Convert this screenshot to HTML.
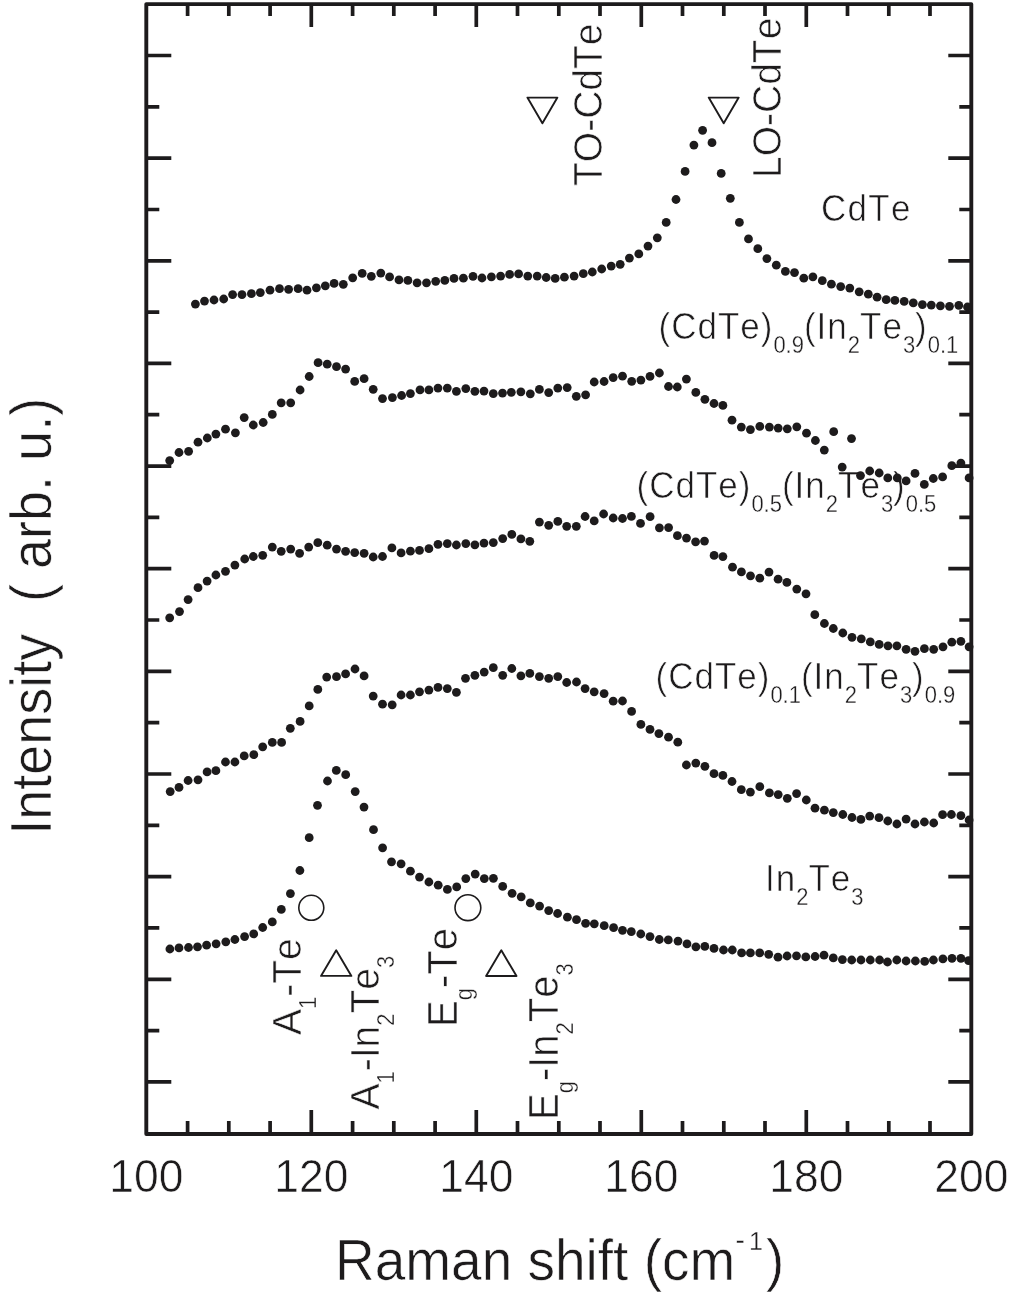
<!DOCTYPE html><html><head><meta charset="utf-8"><title>Raman spectra</title><style>
html,body{margin:0;padding:0;background:#fff;}
svg{display:block;}
text{font-family:"Liberation Sans", Arial, Helvetica, sans-serif;fill:#1d1b1c;font-kerning:none;stroke:#fff;stroke-width:0.6px;}
</style></head><body>
<svg width="1016" height="1300" viewBox="0 0 1016 1300">
<rect width="1016" height="1300" fill="#fff"/>
<path d="M187.6 1134.0V1121.0M187.6 4.1V16.1M228.8 1134.0V1121.0M228.8 4.1V16.1M270.1 1134.0V1121.0M270.1 4.1V16.1M311.3 1134.0V1110.0M311.3 4.1V27.1M352.6 1134.0V1121.0M352.6 4.1V16.1M393.8 1134.0V1121.0M393.8 4.1V16.1M435.1 1134.0V1121.0M435.1 4.1V16.1M476.3 1134.0V1110.0M476.3 4.1V27.1M517.5 1134.0V1121.0M517.5 4.1V16.1M558.8 1134.0V1121.0M558.8 4.1V16.1M600.0 1134.0V1121.0M600.0 4.1V16.1M641.3 1134.0V1110.0M641.3 4.1V27.1M682.5 1134.0V1121.0M682.5 4.1V16.1M723.8 1134.0V1121.0M723.8 4.1V16.1M765.0 1134.0V1121.0M765.0 4.1V16.1M806.3 1134.0V1110.0M806.3 4.1V27.1M847.5 1134.0V1121.0M847.5 4.1V16.1M888.8 1134.0V1121.0M888.8 4.1V16.1M930.0 1134.0V1121.0M930.0 4.1V16.1M146.3 55.5H171.3M971.3 55.5H948.3M146.3 106.8H159.3M971.3 106.8H959.3M146.3 158.1H171.3M971.3 158.1H948.3M146.3 209.5H159.3M971.3 209.5H959.3M146.3 260.8H171.3M971.3 260.8H948.3M146.3 312.1H159.3M971.3 312.1H959.3M146.3 363.4H171.3M971.3 363.4H948.3M146.3 414.7H159.3M971.3 414.7H959.3M146.3 466.1H171.3M971.3 466.1H948.3M146.3 517.4H159.3M971.3 517.4H959.3M146.3 568.7H171.3M971.3 568.7H948.3M146.3 620.0H159.3M971.3 620.0H959.3M146.3 671.3H171.3M971.3 671.3H948.3M146.3 722.7H159.3M971.3 722.7H959.3M146.3 774.0H171.3M971.3 774.0H948.3M146.3 825.3H159.3M971.3 825.3H959.3M146.3 876.6H171.3M971.3 876.6H948.3M146.3 927.9H159.3M971.3 927.9H959.3M146.3 979.3H171.3M971.3 979.3H948.3M146.3 1030.6H159.3M971.3 1030.6H959.3M146.3 1081.9H171.3M971.3 1081.9H948.3" stroke="#1d1b1c" stroke-width="3.7" fill="none"/>
<rect x="146.3" y="4.1" width="825.0" height="1129.9" fill="none" stroke="#1d1b1c" stroke-width="3.9" stroke-linejoin="round"/>
<text transform="translate(146.3,1191.5) scale(1,1.055)" font-size="44.5" text-anchor="middle">100</text>
<text transform="translate(311.3,1191.5) scale(1,1.055)" font-size="44.5" text-anchor="middle">120</text>
<text transform="translate(476.3,1191.5) scale(1,1.055)" font-size="44.5" text-anchor="middle">140</text>
<text transform="translate(641.3,1191.5) scale(1,1.055)" font-size="44.5" text-anchor="middle">160</text>
<text transform="translate(806.3,1191.5) scale(1,1.055)" font-size="44.5" text-anchor="middle">180</text>
<text transform="translate(971.3,1191.5) scale(1,1.055)" font-size="44.5" text-anchor="middle">200</text>
<text transform="translate(335.0,1280.0) scale(1,1.055)" font-size="55">Raman shift (cm<tspan font-size="28" stroke-width="0.3" x="400.5" dy="-28.91">-</tspan><tspan font-size="25" stroke-width="0.3" x="414.0">1</tspan><tspan x="431.0" dy="28.91">)</tspan></text>
<text transform="translate(50.8,834.8) rotate(-90) scale(1,1.055)" font-size="54">Intensity <tspan dx="16.8">( arb. u.)</tspan></text>
<text transform="translate(821.0,221.0) scale(1,1.055)" font-size="35" letter-spacing="1.3">CdTe</text>
<text transform="translate(658.5,339.0) scale(1,1.055)" font-size="35"><tspan letter-spacing="1.0">(CdTe)</tspan><tspan font-size="22" dy="13.27" stroke-width="0.3">0.9</tspan><tspan dy="-13.27" letter-spacing="1.0">(In</tspan><tspan font-size="22" dy="13.27" stroke-width="0.3">2</tspan><tspan dy="-13.27" letter-spacing="1.0">Te</tspan><tspan font-size="22" dy="13.27" stroke-width="0.3">3</tspan><tspan dy="-13.27" letter-spacing="1.0">)</tspan><tspan font-size="22" dy="13.27" stroke-width="0.3">0.1</tspan></text>
<text transform="translate(636.5,498.0) scale(1,1.055)" font-size="35"><tspan letter-spacing="1.0">(CdTe)</tspan><tspan font-size="22" dy="13.27" stroke-width="0.3">0.5</tspan><tspan dy="-13.27" letter-spacing="1.0">(In</tspan><tspan font-size="22" dy="13.27" stroke-width="0.3">2</tspan><tspan dy="-13.27" letter-spacing="1.0">Te</tspan><tspan font-size="22" dy="13.27" stroke-width="0.3">3</tspan><tspan dy="-13.27" letter-spacing="1.0">)</tspan><tspan font-size="22" dy="13.27" stroke-width="0.3">0.5</tspan></text>
<text transform="translate(655.5,689.0) scale(1,1.055)" font-size="35"><tspan letter-spacing="1.0">(CdTe)</tspan><tspan font-size="22" dy="13.27" stroke-width="0.3">0.1</tspan><tspan dy="-13.27" letter-spacing="1.0">(In</tspan><tspan font-size="22" dy="13.27" stroke-width="0.3">2</tspan><tspan dy="-13.27" letter-spacing="1.0">Te</tspan><tspan font-size="22" dy="13.27" stroke-width="0.3">3</tspan><tspan dy="-13.27" letter-spacing="1.0">)</tspan><tspan font-size="22" dy="13.27" stroke-width="0.3">0.9</tspan></text>
<text transform="translate(765.0,891.0) scale(1,1.055)" font-size="35"><tspan letter-spacing="1.0">In</tspan><tspan font-size="22" dy="13.27" stroke-width="0.3">2</tspan><tspan dy="-13.27" letter-spacing="1.0">Te</tspan><tspan font-size="22" dy="13.27" stroke-width="0.3">3</tspan></text>
<text transform="translate(601.5,186.0) rotate(-90) scale(1,1.055)" font-size="39"><tspan>TO-CdTe</tspan></text>
<text transform="translate(781.0,178.0) rotate(-90) scale(1,1.055)" font-size="39"><tspan>LO-CdTe</tspan></text>
<text transform="translate(301.4,1035.0) rotate(-90) scale(1,1.055)" font-size="39"><tspan>A</tspan><tspan font-size="22" dy="14.22" stroke-width="0.3">1</tspan><tspan dy="-14.22">-Te</tspan></text>
<text transform="translate(379.2,1109.5) rotate(-90) scale(1,1.055)" font-size="39"><tspan>A</tspan><tspan font-size="22" dy="14.22" stroke-width="0.3">1</tspan><tspan dy="-14.22">-In</tspan><tspan font-size="22" dy="14.22" stroke-width="0.3">2</tspan><tspan dy="-14.22">Te</tspan><tspan font-size="22" dy="14.22" stroke-width="0.3">3</tspan></text>
<text transform="translate(457.4,1027.0) rotate(-90) scale(1,1.055)" font-size="40"><tspan>E</tspan><tspan font-size="22" dy="14.22" stroke-width="0.3">g</tspan><tspan dy="-14.22">-Te</tspan></text>
<text transform="translate(557.8,1120.0) rotate(-90) scale(1,1.055)" font-size="40"><tspan>E</tspan><tspan font-size="22" dy="14.22" stroke-width="0.3">g</tspan><tspan dy="-14.22">-In</tspan><tspan font-size="22" dy="14.22" stroke-width="0.3">2</tspan><tspan dy="-14.22">Te</tspan><tspan font-size="22" dy="14.22" stroke-width="0.3">3</tspan></text>
<path d="M527.4 97.6H557.4L542.4 123.2Z" fill="none" stroke="#1d1b1c" stroke-width="1.9" stroke-linejoin="round"/>
<path d="M708.7 97.6H738.7L723.7 123.2Z" fill="none" stroke="#1d1b1c" stroke-width="1.9" stroke-linejoin="round"/>
<path d="M321.0 975.9H351.4L336.2 950.3Z" fill="none" stroke="#1d1b1c" stroke-width="1.9" stroke-linejoin="round"/>
<path d="M486.1 976.0H516.5L501.3 950.3Z" fill="none" stroke="#1d1b1c" stroke-width="1.9" stroke-linejoin="round"/>
<circle cx="311.3" cy="907.8" r="12.5" fill="none" stroke="#1d1b1c" stroke-width="1.6"/>
<circle cx="467.9" cy="907.7" r="12.9" fill="none" stroke="#1d1b1c" stroke-width="1.6"/>
<g fill="#1d1b1c">
<circle cx="195.4" cy="304.1" r="4.4"/><circle cx="204.5" cy="301.1" r="4.4"/><circle cx="214.0" cy="300.0" r="4.4"/><circle cx="223.7" cy="299.0" r="4.4"/><circle cx="232.6" cy="294.6" r="4.4"/><circle cx="242.0" cy="294.6" r="4.4"/><circle cx="251.4" cy="293.7" r="4.4"/><circle cx="260.3" cy="292.6" r="4.4"/><circle cx="270.0" cy="290.2" r="4.4"/><circle cx="279.5" cy="288.7" r="4.4"/><circle cx="288.6" cy="289.3" r="4.4"/><circle cx="298.1" cy="288.7" r="4.4"/><circle cx="307.0" cy="290.2" r="4.4"/><circle cx="316.4" cy="287.8" r="4.4"/><circle cx="325.3" cy="285.8" r="4.4"/><circle cx="334.1" cy="283.4" r="4.4"/><circle cx="343.3" cy="284.3" r="4.4"/><circle cx="352.7" cy="277.8" r="4.4"/><circle cx="362.2" cy="273.4" r="4.4"/><circle cx="371.3" cy="276.3" r="4.4"/><circle cx="380.8" cy="273.1" r="4.4"/><circle cx="389.6" cy="276.9" r="4.4"/><circle cx="399.0" cy="279.9" r="4.4"/><circle cx="407.9" cy="280.4" r="4.4"/><circle cx="417.1" cy="282.8" r="4.4"/><circle cx="426.5" cy="282.8" r="4.4"/><circle cx="435.7" cy="281.3" r="4.4"/><circle cx="444.8" cy="280.4" r="4.4"/><circle cx="454.0" cy="278.4" r="4.4"/><circle cx="463.4" cy="278.2" r="4.4"/><circle cx="473.0" cy="276.3" r="4.4"/><circle cx="482.0" cy="278.0" r="4.4"/><circle cx="491.4" cy="276.8" r="4.4"/><circle cx="500.6" cy="276.1" r="4.4"/><circle cx="509.6" cy="274.4" r="4.4"/><circle cx="518.6" cy="273.9" r="4.4"/><circle cx="527.8" cy="276.1" r="4.4"/><circle cx="537.2" cy="276.1" r="4.4"/><circle cx="546.2" cy="277.5" r="4.4"/><circle cx="555.2" cy="278.4" r="4.4"/><circle cx="564.4" cy="277.2" r="4.4"/><circle cx="574.1" cy="276.1" r="4.4"/><circle cx="583.3" cy="273.7" r="4.4"/><circle cx="592.3" cy="272.0" r="4.4"/><circle cx="601.7" cy="269.0" r="4.4"/><circle cx="611.2" cy="266.1" r="4.4"/><circle cx="620.2" cy="264.3" r="4.4"/><circle cx="629.4" cy="258.1" r="4.4"/><circle cx="638.8" cy="253.9" r="4.4"/><circle cx="648.0" cy="246.1" r="4.4"/><circle cx="657.3" cy="237.8" r="4.4"/><circle cx="666.2" cy="222.4" r="4.4"/><circle cx="676.0" cy="199.5" r="4.4"/><circle cx="685.1" cy="171.4" r="4.4"/><circle cx="693.9" cy="145.1" r="4.4"/><circle cx="702.6" cy="130.3" r="4.4"/><circle cx="712.0" cy="142.7" r="4.4"/><circle cx="721.2" cy="173.4" r="4.4"/><circle cx="730.3" cy="198.3" r="4.4"/><circle cx="739.4" cy="222.4" r="4.4"/><circle cx="748.5" cy="238.9" r="4.4"/><circle cx="757.8" cy="248.7" r="4.4"/><circle cx="766.9" cy="258.6" r="4.4"/><circle cx="776.3" cy="265.2" r="4.4"/><circle cx="785.4" cy="271.4" r="4.4"/><circle cx="794.5" cy="272.6" r="4.4"/><circle cx="803.8" cy="278.2" r="4.4"/><circle cx="812.9" cy="276.8" r="4.4"/><circle cx="822.3" cy="280.7" r="4.4"/><circle cx="831.4" cy="284.2" r="4.4"/><circle cx="840.7" cy="286.6" r="4.4"/><circle cx="849.8" cy="288.1" r="4.4"/><circle cx="859.2" cy="291.8" r="4.4"/><circle cx="868.3" cy="294.2" r="4.4"/><circle cx="877.1" cy="297.2" r="4.4"/><circle cx="886.2" cy="299.7" r="4.4"/><circle cx="894.9" cy="300.4" r="4.4"/><circle cx="904.2" cy="301.4" r="4.4"/><circle cx="913.3" cy="302.9" r="4.4"/><circle cx="922.4" cy="304.6" r="4.4"/><circle cx="931.3" cy="305.1" r="4.4"/><circle cx="940.4" cy="305.8" r="4.4"/><circle cx="949.5" cy="306.3" r="4.4"/><circle cx="958.8" cy="305.3" r="4.4"/><circle cx="967.5" cy="307.0" r="4.4"/>
<circle cx="169.7" cy="460.6" r="4.4"/><circle cx="179.0" cy="452.5" r="4.4"/><circle cx="188.6" cy="451.3" r="4.4"/><circle cx="198.0" cy="442.2" r="4.4"/><circle cx="207.3" cy="438.0" r="4.4"/><circle cx="215.9" cy="434.1" r="4.4"/><circle cx="225.5" cy="429.2" r="4.4"/><circle cx="235.4" cy="432.8" r="4.4"/><circle cx="244.2" cy="417.6" r="4.4"/><circle cx="253.3" cy="425.0" r="4.4"/><circle cx="263.2" cy="422.5" r="4.4"/><circle cx="272.3" cy="414.4" r="4.4"/><circle cx="281.2" cy="402.8" r="4.4"/><circle cx="290.7" cy="402.8" r="4.4"/><circle cx="300.1" cy="390.0" r="4.4"/><circle cx="309.2" cy="376.5" r="4.4"/><circle cx="318.1" cy="362.7" r="4.4"/><circle cx="327.2" cy="364.2" r="4.4"/><circle cx="336.5" cy="366.7" r="4.4"/><circle cx="345.6" cy="369.1" r="4.4"/><circle cx="354.7" cy="381.4" r="4.4"/><circle cx="364.1" cy="378.7" r="4.4"/><circle cx="373.2" cy="389.3" r="4.4"/><circle cx="382.5" cy="398.6" r="4.4"/><circle cx="392.4" cy="397.6" r="4.4"/><circle cx="401.6" cy="395.5" r="4.4"/><circle cx="410.4" cy="393.6" r="4.4"/><circle cx="420.0" cy="389.9" r="4.4"/><circle cx="428.9" cy="389.9" r="4.4"/><circle cx="438.0" cy="388.1" r="4.4"/><circle cx="447.3" cy="388.1" r="4.4"/><circle cx="456.4" cy="391.3" r="4.4"/><circle cx="465.8" cy="388.6" r="4.4"/><circle cx="474.9" cy="391.3" r="4.4"/><circle cx="484.0" cy="391.1" r="4.4"/><circle cx="493.3" cy="393.6" r="4.4"/><circle cx="502.5" cy="393.1" r="4.4"/><circle cx="511.3" cy="392.3" r="4.4"/><circle cx="520.9" cy="391.8" r="4.4"/><circle cx="530.3" cy="393.8" r="4.4"/><circle cx="539.4" cy="389.4" r="4.4"/><circle cx="548.7" cy="392.6" r="4.4"/><circle cx="557.8" cy="388.1" r="4.4"/><circle cx="567.2" cy="387.6" r="4.4"/><circle cx="576.3" cy="396.3" r="4.4"/><circle cx="585.6" cy="394.8" r="4.4"/><circle cx="594.2" cy="382.0" r="4.4"/><circle cx="604.1" cy="381.5" r="4.4"/><circle cx="613.2" cy="377.6" r="4.4"/><circle cx="622.5" cy="376.2" r="4.4"/><circle cx="631.7" cy="381.3" r="4.4"/><circle cx="640.9" cy="380.1" r="4.4"/><circle cx="650.0" cy="376.4" r="4.4"/><circle cx="659.4" cy="373.0" r="4.4"/><circle cx="668.5" cy="386.5" r="4.4"/><circle cx="677.3" cy="387.0" r="4.4"/><circle cx="686.4" cy="379.1" r="4.4"/><circle cx="695.8" cy="392.4" r="4.4"/><circle cx="704.9" cy="399.3" r="4.4"/><circle cx="714.0" cy="403.5" r="4.4"/><circle cx="722.9" cy="405.4" r="4.4"/><circle cx="732.0" cy="420.2" r="4.4"/><circle cx="741.3" cy="427.1" r="4.4"/><circle cx="750.4" cy="429.6" r="4.4"/><circle cx="759.8" cy="426.4" r="4.4"/><circle cx="769.4" cy="427.1" r="4.4"/><circle cx="778.2" cy="428.1" r="4.4"/><circle cx="787.3" cy="428.8" r="4.4"/><circle cx="796.8" cy="426.8" r="4.4"/><circle cx="806.5" cy="433.2" r="4.4"/><circle cx="815.4" cy="440.5" r="4.4"/><circle cx="824.3" cy="450.1" r="4.4"/><circle cx="833.7" cy="431.7" r="4.4"/><circle cx="851.5" cy="438.6" r="4.4"/><circle cx="842.2" cy="467.1" r="4.4"/><circle cx="860.5" cy="475.6" r="4.4"/><circle cx="869.7" cy="471.0" r="4.4"/><circle cx="879.2" cy="473.0" r="4.4"/><circle cx="887.8" cy="477.9" r="4.4"/><circle cx="897.3" cy="477.9" r="4.4"/><circle cx="906.1" cy="480.9" r="4.4"/><circle cx="915.0" cy="473.4" r="4.4"/><circle cx="924.3" cy="484.4" r="4.4"/><circle cx="933.3" cy="478.5" r="4.4"/><circle cx="942.6" cy="476.9" r="4.4"/><circle cx="951.8" cy="465.7" r="4.4"/><circle cx="960.9" cy="463.1" r="4.4"/><circle cx="969.1" cy="477.9" r="4.4"/>
<circle cx="169.7" cy="617.8" r="4.4"/><circle cx="179.5" cy="611.6" r="4.4"/><circle cx="188.1" cy="599.6" r="4.4"/><circle cx="198.0" cy="587.7" r="4.4"/><circle cx="207.1" cy="581.1" r="4.4"/><circle cx="215.9" cy="575.0" r="4.4"/><circle cx="225.5" cy="571.3" r="4.4"/><circle cx="234.9" cy="565.1" r="4.4"/><circle cx="244.7" cy="559.0" r="4.4"/><circle cx="253.3" cy="556.5" r="4.4"/><circle cx="262.7" cy="555.3" r="4.4"/><circle cx="272.3" cy="547.1" r="4.4"/><circle cx="281.2" cy="551.3" r="4.4"/><circle cx="290.7" cy="549.1" r="4.4"/><circle cx="299.6" cy="553.3" r="4.4"/><circle cx="308.7" cy="547.1" r="4.4"/><circle cx="317.8" cy="542.7" r="4.4"/><circle cx="327.2" cy="545.2" r="4.4"/><circle cx="336.5" cy="549.1" r="4.4"/><circle cx="345.6" cy="551.3" r="4.4"/><circle cx="354.7" cy="552.6" r="4.4"/><circle cx="364.1" cy="553.3" r="4.4"/><circle cx="373.2" cy="557.0" r="4.4"/><circle cx="382.5" cy="556.5" r="4.4"/><circle cx="391.9" cy="547.9" r="4.4"/><circle cx="401.1" cy="552.9" r="4.4"/><circle cx="410.4" cy="551.2" r="4.4"/><circle cx="419.5" cy="550.4" r="4.4"/><circle cx="428.9" cy="548.7" r="4.4"/><circle cx="438.0" cy="544.3" r="4.4"/><circle cx="447.3" cy="543.6" r="4.4"/><circle cx="456.4" cy="545.0" r="4.4"/><circle cx="465.8" cy="543.6" r="4.4"/><circle cx="474.9" cy="544.8" r="4.4"/><circle cx="484.0" cy="543.1" r="4.4"/><circle cx="493.3" cy="542.6" r="4.4"/><circle cx="502.7" cy="538.6" r="4.4"/><circle cx="511.8" cy="534.4" r="4.4"/><circle cx="520.9" cy="538.9" r="4.4"/><circle cx="529.8" cy="541.3" r="4.4"/><circle cx="539.4" cy="522.1" r="4.4"/><circle cx="548.7" cy="525.3" r="4.4"/><circle cx="557.8" cy="521.4" r="4.4"/><circle cx="566.7" cy="526.3" r="4.4"/><circle cx="576.3" cy="526.3" r="4.4"/><circle cx="585.1" cy="516.5" r="4.4"/><circle cx="594.2" cy="520.9" r="4.4"/><circle cx="603.6" cy="514.0" r="4.4"/><circle cx="613.2" cy="518.0" r="4.4"/><circle cx="622.5" cy="518.5" r="4.4"/><circle cx="631.4" cy="516.4" r="4.4"/><circle cx="640.5" cy="523.4" r="4.4"/><circle cx="650.1" cy="516.7" r="4.4"/><circle cx="659.4" cy="527.8" r="4.4"/><circle cx="668.6" cy="527.6" r="4.4"/><circle cx="677.4" cy="535.7" r="4.4"/><circle cx="686.5" cy="538.1" r="4.4"/><circle cx="695.6" cy="541.8" r="4.4"/><circle cx="704.5" cy="541.1" r="4.4"/><circle cx="714.1" cy="555.4" r="4.4"/><circle cx="722.9" cy="556.6" r="4.4"/><circle cx="732.5" cy="567.2" r="4.4"/><circle cx="741.4" cy="571.9" r="4.4"/><circle cx="750.5" cy="575.8" r="4.4"/><circle cx="759.8" cy="578.2" r="4.4"/><circle cx="769.0" cy="572.1" r="4.4"/><circle cx="778.1" cy="579.2" r="4.4"/><circle cx="786.9" cy="582.4" r="4.4"/><circle cx="796.8" cy="589.1" r="4.4"/><circle cx="806.0" cy="593.8" r="4.4"/><circle cx="814.8" cy="614.7" r="4.4"/><circle cx="824.4" cy="623.5" r="4.4"/><circle cx="833.3" cy="628.5" r="4.4"/><circle cx="842.8" cy="633.0" r="4.4"/><circle cx="852.0" cy="637.3" r="4.4"/><circle cx="861.3" cy="638.9" r="4.4"/><circle cx="870.3" cy="641.9" r="4.4"/><circle cx="879.2" cy="644.4" r="4.4"/><circle cx="888.0" cy="645.8" r="4.4"/><circle cx="896.9" cy="645.8" r="4.4"/><circle cx="906.1" cy="649.3" r="4.4"/><circle cx="915.0" cy="651.3" r="4.4"/><circle cx="924.4" cy="648.7" r="4.4"/><circle cx="933.7" cy="649.3" r="4.4"/><circle cx="943.0" cy="646.8" r="4.4"/><circle cx="951.8" cy="642.2" r="4.4"/><circle cx="960.9" cy="641.3" r="4.4"/><circle cx="969.1" cy="646.8" r="4.4"/>
<circle cx="170.2" cy="791.6" r="4.4"/><circle cx="179.0" cy="787.4" r="4.4"/><circle cx="188.1" cy="780.5" r="4.4"/><circle cx="198.0" cy="779.8" r="4.4"/><circle cx="207.1" cy="771.9" r="4.4"/><circle cx="215.9" cy="770.7" r="4.4"/><circle cx="225.5" cy="762.0" r="4.4"/><circle cx="234.9" cy="762.0" r="4.4"/><circle cx="244.2" cy="755.9" r="4.4"/><circle cx="253.8" cy="754.7" r="4.4"/><circle cx="262.7" cy="746.8" r="4.4"/><circle cx="272.3" cy="742.4" r="4.4"/><circle cx="281.6" cy="742.4" r="4.4"/><circle cx="290.3" cy="728.3" r="4.4"/><circle cx="300.1" cy="721.4" r="4.4"/><circle cx="309.2" cy="705.9" r="4.4"/><circle cx="317.8" cy="689.4" r="4.4"/><circle cx="326.7" cy="677.1" r="4.4"/><circle cx="336.5" cy="676.7" r="4.4"/><circle cx="345.6" cy="673.9" r="4.4"/><circle cx="355.0" cy="669.0" r="4.4"/><circle cx="364.1" cy="675.9" r="4.4"/><circle cx="373.2" cy="696.1" r="4.4"/><circle cx="382.5" cy="704.2" r="4.4"/><circle cx="392.2" cy="704.8" r="4.4"/><circle cx="401.1" cy="695.0" r="4.4"/><circle cx="410.4" cy="695.0" r="4.4"/><circle cx="419.5" cy="691.8" r="4.4"/><circle cx="428.9" cy="690.1" r="4.4"/><circle cx="438.0" cy="687.4" r="4.4"/><circle cx="447.3" cy="688.6" r="4.4"/><circle cx="456.4" cy="692.3" r="4.4"/><circle cx="465.5" cy="678.3" r="4.4"/><circle cx="474.9" cy="675.3" r="4.4"/><circle cx="484.2" cy="672.1" r="4.4"/><circle cx="493.3" cy="667.7" r="4.4"/><circle cx="502.7" cy="675.3" r="4.4"/><circle cx="511.8" cy="668.5" r="4.4"/><circle cx="520.9" cy="675.8" r="4.4"/><circle cx="529.8" cy="673.4" r="4.4"/><circle cx="539.4" cy="676.6" r="4.4"/><circle cx="548.7" cy="678.3" r="4.4"/><circle cx="557.8" cy="676.6" r="4.4"/><circle cx="566.7" cy="682.5" r="4.4"/><circle cx="576.5" cy="682.0" r="4.4"/><circle cx="585.1" cy="688.6" r="4.4"/><circle cx="594.2" cy="691.8" r="4.4"/><circle cx="604.1" cy="693.6" r="4.4"/><circle cx="613.2" cy="701.2" r="4.4"/><circle cx="622.5" cy="701.0" r="4.4"/><circle cx="631.6" cy="711.4" r="4.4"/><circle cx="640.9" cy="724.4" r="4.4"/><circle cx="650.0" cy="729.4" r="4.4"/><circle cx="658.9" cy="733.6" r="4.4"/><circle cx="668.5" cy="737.2" r="4.4"/><circle cx="677.8" cy="742.2" r="4.4"/><circle cx="686.4" cy="765.0" r="4.4"/><circle cx="695.8" cy="763.1" r="4.4"/><circle cx="704.9" cy="766.3" r="4.4"/><circle cx="714.0" cy="773.7" r="4.4"/><circle cx="722.9" cy="775.4" r="4.4"/><circle cx="732.0" cy="781.5" r="4.4"/><circle cx="741.3" cy="789.7" r="4.4"/><circle cx="750.4" cy="792.1" r="4.4"/><circle cx="759.8" cy="786.7" r="4.4"/><circle cx="769.4" cy="792.9" r="4.4"/><circle cx="778.2" cy="794.6" r="4.4"/><circle cx="787.3" cy="798.3" r="4.4"/><circle cx="796.6" cy="793.6" r="4.4"/><circle cx="806.3" cy="800.0" r="4.4"/><circle cx="815.0" cy="808.2" r="4.4"/><circle cx="824.4" cy="810.2" r="4.4"/><circle cx="833.3" cy="812.6" r="4.4"/><circle cx="842.8" cy="814.5" r="4.4"/><circle cx="852.0" cy="817.5" r="4.4"/><circle cx="860.9" cy="819.4" r="4.4"/><circle cx="869.7" cy="816.1" r="4.4"/><circle cx="879.0" cy="817.7" r="4.4"/><circle cx="887.8" cy="821.0" r="4.4"/><circle cx="896.9" cy="824.0" r="4.4"/><circle cx="906.1" cy="819.1" r="4.4"/><circle cx="915.0" cy="824.0" r="4.4"/><circle cx="924.4" cy="822.0" r="4.4"/><circle cx="933.7" cy="823.0" r="4.4"/><circle cx="942.6" cy="814.7" r="4.4"/><circle cx="951.4" cy="814.5" r="4.4"/><circle cx="960.9" cy="815.7" r="4.4"/><circle cx="969.1" cy="820.0" r="4.4"/>
<circle cx="169.9" cy="949.0" r="4.4"/><circle cx="179.0" cy="947.9" r="4.4"/><circle cx="188.5" cy="947.5" r="4.4"/><circle cx="197.5" cy="946.8" r="4.4"/><circle cx="206.6" cy="945.2" r="4.4"/><circle cx="216.1" cy="943.8" r="4.4"/><circle cx="225.8" cy="941.8" r="4.4"/><circle cx="234.9" cy="939.5" r="4.4"/><circle cx="244.6" cy="936.6" r="4.4"/><circle cx="253.7" cy="933.9" r="4.4"/><circle cx="262.7" cy="927.5" r="4.4"/><circle cx="272.3" cy="921.9" r="4.4"/><circle cx="281.3" cy="909.4" r="4.4"/><circle cx="290.4" cy="893.6" r="4.4"/><circle cx="299.9" cy="870.5" r="4.4"/><circle cx="309.2" cy="837.7" r="4.4"/><circle cx="317.5" cy="805.3" r="4.4"/><circle cx="327.5" cy="781.0" r="4.4"/><circle cx="336.3" cy="770.4" r="4.4"/><circle cx="345.7" cy="774.7" r="4.4"/><circle cx="355.2" cy="791.6" r="4.4"/><circle cx="364.0" cy="807.1" r="4.4"/><circle cx="373.5" cy="829.7" r="4.4"/><circle cx="382.6" cy="847.8" r="4.4"/><circle cx="391.5" cy="861.8" r="4.4"/><circle cx="401.1" cy="863.8" r="4.4"/><circle cx="410.4" cy="871.2" r="4.4"/><circle cx="419.5" cy="877.1" r="4.4"/><circle cx="428.9" cy="882.0" r="4.4"/><circle cx="438.2" cy="885.2" r="4.4"/><circle cx="447.4" cy="889.4" r="4.4"/><circle cx="456.7" cy="886.9" r="4.4"/><circle cx="465.8" cy="878.6" r="4.4"/><circle cx="475.2" cy="874.1" r="4.4"/><circle cx="484.3" cy="878.6" r="4.4"/><circle cx="493.4" cy="878.3" r="4.4"/><circle cx="502.7" cy="886.4" r="4.4"/><circle cx="512.1" cy="893.3" r="4.4"/><circle cx="521.2" cy="896.8" r="4.4"/><circle cx="530.3" cy="902.9" r="4.4"/><circle cx="539.6" cy="906.1" r="4.4"/><circle cx="548.7" cy="910.6" r="4.4"/><circle cx="557.6" cy="913.5" r="4.4"/><circle cx="567.4" cy="917.2" r="4.4"/><circle cx="576.5" cy="919.7" r="4.4"/><circle cx="585.6" cy="923.3" r="4.4"/><circle cx="594.3" cy="923.8" r="4.4"/><circle cx="604.2" cy="925.7" r="4.4"/><circle cx="613.6" cy="927.7" r="4.4"/><circle cx="622.5" cy="930.3" r="4.4"/><circle cx="631.3" cy="931.7" r="4.4"/><circle cx="640.8" cy="934.0" r="4.4"/><circle cx="650.0" cy="936.6" r="4.4"/><circle cx="659.3" cy="939.5" r="4.4"/><circle cx="668.3" cy="939.9" r="4.4"/><circle cx="678.0" cy="941.1" r="4.4"/><circle cx="687.0" cy="943.9" r="4.4"/><circle cx="695.9" cy="946.8" r="4.4"/><circle cx="704.8" cy="946.4" r="4.4"/><circle cx="714.0" cy="948.4" r="4.4"/><circle cx="723.5" cy="950.0" r="4.4"/><circle cx="732.3" cy="950.0" r="4.4"/><circle cx="741.6" cy="952.9" r="4.4"/><circle cx="750.4" cy="952.9" r="4.4"/><circle cx="759.7" cy="952.9" r="4.4"/><circle cx="768.7" cy="954.3" r="4.4"/><circle cx="778.0" cy="957.2" r="4.4"/><circle cx="787.1" cy="956.0" r="4.4"/><circle cx="796.5" cy="955.8" r="4.4"/><circle cx="805.8" cy="956.9" r="4.4"/><circle cx="815.1" cy="956.5" r="4.4"/><circle cx="824.0" cy="955.2" r="4.4"/><circle cx="833.3" cy="957.9" r="4.4"/><circle cx="842.4" cy="959.6" r="4.4"/><circle cx="851.7" cy="960.0" r="4.4"/><circle cx="861.0" cy="960.0" r="4.4"/><circle cx="870.3" cy="960.0" r="4.4"/><circle cx="879.6" cy="960.0" r="4.4"/><circle cx="887.5" cy="962.0" r="4.4"/><circle cx="896.8" cy="960.0" r="4.4"/><circle cx="906.1" cy="961.0" r="4.4"/><circle cx="915.4" cy="961.0" r="4.4"/><circle cx="924.7" cy="961.4" r="4.4"/><circle cx="933.4" cy="960.0" r="4.4"/><circle cx="942.9" cy="958.9" r="4.4"/><circle cx="952.0" cy="958.3" r="4.4"/><circle cx="960.9" cy="958.3" r="4.4"/><circle cx="968.5" cy="960.6" r="4.4"/>
</g>
</svg></body></html>
